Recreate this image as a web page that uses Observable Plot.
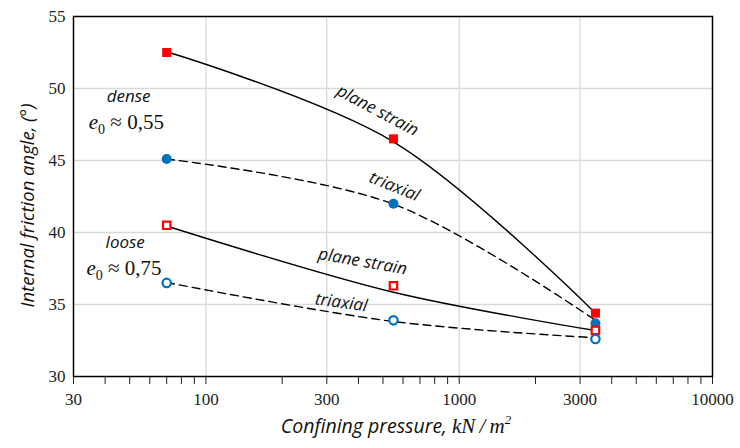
<!DOCTYPE html>
<html><head><meta charset="utf-8">
<script src="https://cdn.jsdelivr.net/npm/d3@7"></script>
<script src="https://cdn.jsdelivr.net/npm/@observablehq/plot@0.6"></script>
<style>body{margin:0;background:#fff}</style>
</head><body><div id="chart"></div>
<script>
// measured points
const pressure = [70, 550, 3450];
const densePS = [52.5, 46.5, 34.4];
const denseTX = [45.1, 42.0, 33.7];
const loosePS = [40.5, 36.3, 33.2];
const looseTX = [36.5, 33.9, 32.6];

// trend curves
const fitPressure = [70, 550, 3450];
const fitDensePS = [52.55, 46.3, 34.4];
const fitDenseTX = [45.1, 41.97, 33.9];
const fitLoosePS = [40.45, 35.85, 33.19];
const fitLooseTX = [36.53, 33.82, 32.69];

// axes
const xTickLabels = [30, 100, 300, 1000, 3000, 10000];
const xTicks = [30,40,50,60,70,80,90,100,200,300,400,500,600,700,800,900,1000,2000,3000,4000,5000,6000,7000,8000,9000,10000];
const xGrid = [100, 300, 1000, 3000];
const yTicks = [30, 35, 40, 45, 50, 55];
const yGrid = [35, 40, 45, 50];
const yTitle = "Internal friction angle, (°)";
const xTitle = "Confining pressure, kN/m²";

// annotations
const annText = ["dense", "loose", "plane strain", "triaxial", "plane strain", "triaxial"];
const annX = [49.5, 48, 476, 555, 416, 342];
const annY = [49.44, 39.31, 48.47, 43.19, 37.99, 35.14];
const annRotate = [0, 0, 28, 22, 10, 8];
const voidText = ["0,55", "0,75"];
const voidX = [48.5, 47.5];
const voidY = [47.64, 37.5];

const rows = (xs, ys) => xs.map((x, i) => ({x, y: ys[i]}));
const ann = annText.map((t, i) => ({t, x: annX[i], y: annY[i], r: annRotate[i]}));
const voids = voidText.map((t, i) => ({t, x: voidX[i], y: voidY[i]}));

const lineOpts = {x: "x", y: "y", curve: "catmull-rom", stroke: "black", strokeWidth: 1.4};
const dashOpts = {...lineOpts, strokeDasharray: "8,5"};
const RED = "#ff0000", BLUE = "#0070c0";
const SANS = "'Open Sans', sans-serif", SERIF = "'Liberation Serif', serif";

const chart = Plot.plot({
  width: 740, height: 448,
  marginLeft: 73, marginRight: 28, marginTop: 16, marginBottom: 72,
  style: {background: "#fff", fontFamily: SERIF, fontSize: "16px", color: "#222"},
  x: {type: "log", domain: [30, 10000]},
  y: {domain: [30, 55]},
  marks: [
    Plot.gridX(xGrid, {stroke: "#d9d9d9", strokeOpacity: 1, strokeWidth: 1.3}),
    Plot.gridY(yGrid, {stroke: "#d9d9d9", strokeOpacity: 1, strokeWidth: 1.3}),
    Plot.axisX(xTicks, {tickSize: 8, tickPadding: 8, label: null, fontSize: 17,
      tickFormat: d => xTickLabels.includes(d) ? String(d) : ""}),
    Plot.axisY(yTicks, {tickSize: 0, tickPadding: 8, label: null, fontSize: 17}),
    Plot.frame({stroke: "black", strokeWidth: 1.5}),
    Plot.line(rows(fitPressure, fitDensePS), lineOpts),
    Plot.line(rows(fitPressure, fitDenseTX), dashOpts),
    Plot.line(rows(fitPressure, fitLoosePS), lineOpts),
    Plot.line(rows(fitPressure, fitLooseTX), dashOpts),
    Plot.dot(rows(pressure, densePS), {x: "x", y: "y", symbol: "square", r: 5.1, fill: RED}),
    Plot.dot(rows(pressure, denseTX), {x: "x", y: "y", symbol: "circle", r: 5, fill: BLUE}),
    Plot.dot(rows(pressure, loosePS), {x: "x", y: "y", symbol: "square", r: 4.2, fill: "white", stroke: RED, strokeWidth: 2.2}),
    Plot.dot(rows(pressure, looseTX), {x: "x", y: "y", symbol: "circle", r: 4.2, fill: "white", stroke: BLUE, strokeWidth: 2.2}),
    Plot.text(ann, {x: "x", y: "y", text: "t", rotate: "r", fontFamily: SANS, fontStyle: "italic", fontSize: 17, fill: "#111"}),
    Plot.text(voids, {x: "x", y: "y", text: "t", className: "voidratio", fontFamily: SERIF, fontSize: 21, fill: "#111"}),
    Plot.text([yTitle], {frameAnchor: "left", dx: -45, dy: 9, rotate: -90, textAnchor: "middle", fontFamily: SANS, fontStyle: "italic", fontSize: 18.5, fill: "#111"}),
    Plot.text([xTitle], {frameAnchor: "bottom", dy: 56, dx: 3, textAnchor: "middle", className: "xtitle", fontFamily: SANS, fontStyle: "italic", fontSize: 19.5, fill: "#111"})
  ]
});
document.getElementById("chart").appendChild(chart);

// rich text: italic e with subscript 0
d3.select(chart).selectAll("g.voidratio text").each(function() {
  const v = this.textContent;
  const t = d3.select(this).text("");
  t.append("tspan").attr("font-style", "italic").text("e");
  t.append("tspan").attr("font-size", 14).attr("dy", 5).text("0");
  t.append("tspan").attr("dy", -5).text(" ≈ " + v);
});
d3.select(chart).selectAll("g.xtitle text").each(function() {
  const t = d3.select(this).text("");
  t.append("tspan").text("Confining pressure, ");
  t.append("tspan").attr("font-family", SERIF).attr("font-size", 21).text("kN\u2009/\u2009m");
  t.append("tspan").attr("font-family", SERIF).attr("font-size", 13).attr("dy", -9).text("2");
});
</script>
</body></html>
